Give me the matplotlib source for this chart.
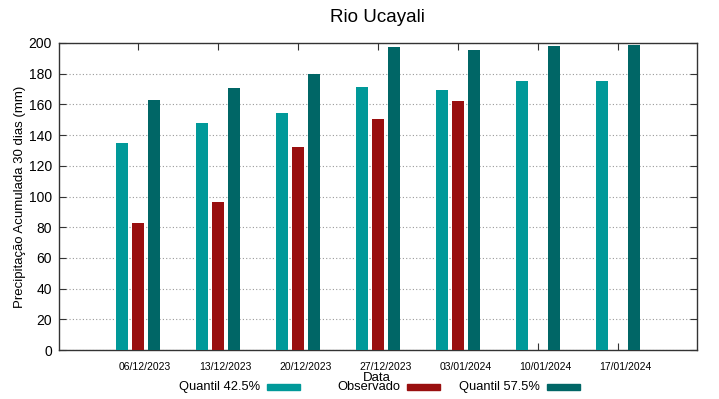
import numpy as np
import matplotlib.pyplot as plt
from matplotlib.patches import Rectangle

plt.rcParams['font.family'] = ['Liberation Sans', 'DejaVu Sans']

datas = ["06/12/2023", "13/12/2023", "20/12/2023", "27/12/2023",
         "03/01/2024", "10/01/2024", "17/01/2024"]
q425 = [135, 148, 154.6, 171.1, 169.6, 175.4, 175.4]
observado = [82.5, 96.4, 132, 150.7, 162, np.nan, np.nan]
q575 = [162.6, 170.7, 179.8, 197.6, 195.6, 198.3, 199]

nomes = ["Quantil 42.5%", "Observado", "Quantil 57.5%"]
cores = ["#009999", "#990f0f", "#006666"]

fig = plt.figure(figsize=(7.19, 3.99), dpi=100)
ax = fig.add_axes([59/719, 49/399, 638/719, 307/399])

x = np.arange(len(datas))
w = 0.16
ax.bar(x - 0.2, q425, w, color=cores[0], zorder=3)
ax.bar(x, observado, w, color=cores[1], zorder=3)
ax.bar(x + 0.2, q575, w, color=cores[2], zorder=3)

ax.set_xlim(-0.9875, 6.9875)
ax.set_ylim(0, 200)
ax.set_yticks(np.arange(0, 201, 20))
# tick marks at the dates, labels shifted a bit to the right (gnuplot style)
ax.set_xticks(x)
ax.set_xticklabels([])
ax.set_xticks(x + 0.09, minor=True)
ax.set_xticklabels(datas, minor=True, fontsize=7.5)
ax.tick_params(axis='x', which='minor', length=0, pad=9)

ax.tick_params(axis='x', which='major', direction='in', top=True, length=5,
               color='#333333')
ax.tick_params(axis='y', direction='in', right=True, length=5, pad=5,
               labelsize=10, color='#333333')
ax.yaxis.grid(True, linestyle=(0, (1, 2)), color='#999999', linewidth=0.8, zorder=0)
for s in ax.spines.values():
    s.set_color('#333333')
    s.set_linewidth(1)

ax.set_ylabel("Precipitação Acumulada 30 dias (mm)", fontsize=9.5, labelpad=2)
fig.text(377/719, 1 - 378/399, "Data", ha='center', va='center', fontsize=9.5)
fig.text(377/719, 1 - 17/399, "Rio Ucayali", ha='center', va='center', fontsize=13.5)

# legend, gnuplot-like: right-aligned text followed by the sample
fim_texto = [260, 400, 540]
yl = 387
for nome, cor, xt in zip(nomes, cores, fim_texto):
    fig.text(xt/719, 1 - yl/399, nome, ha='right', va='center', fontsize=9.3)
    fig.patches.append(Rectangle(((xt + 7)/719, 1 - (yl + 3)/399), 33/719, 6/399,
                                 transform=fig.transFigure, color=cor))

fig.savefig("out.png", dpi=100)
